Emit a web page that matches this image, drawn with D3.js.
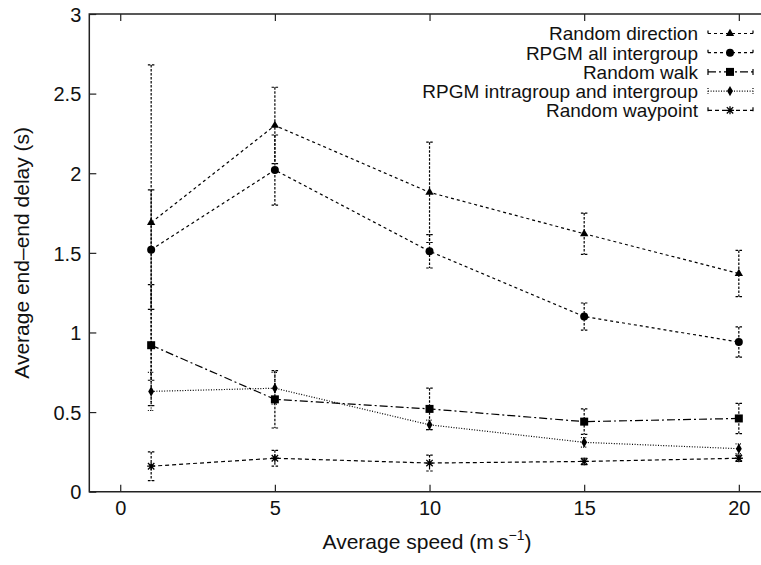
<!DOCTYPE html>
<html><head><meta charset="utf-8">
<script src="https://cdn.jsdelivr.net/npm/d3@7"></script>
<style>
html,body{margin:0;padding:0;background:#fff;}
svg{display:block;}
text{font-family:"Liberation Sans",Arial,Helvetica,sans-serif;fill:#111;}
</style></head>
<body><svg id="c" width="761" height="565"></svg>
<script>
// ---- data ----
const speeds = [1, 5, 10, 15, 20];
const xTicks = [0, 5, 10, 15, 20];
const yTicks = [0, 0.5, 1, 1.5, 2, 2.5, 3];
const yTickLabels = ["0", "0.5", "1", "1.5", "2", "2.5", "3"];
const seriesNames = ["Random direction", "RPGM all intergroup", "Random walk", "RPGM intragroup and intergroup", "Random waypoint"];
const randomDirection    = [1.69, 2.30, 1.88, 1.62, 1.37];
const randomDirectionErr = [0.99, 0.24, 0.315, 0.13, 0.145];
const rpgmAll            = [1.52, 2.02, 1.51, 1.10, 0.94];
const rpgmAllErr         = [0.375, 0.22, 0.105, 0.085, 0.095];
const randomWalk         = [0.92, 0.58, 0.52, 0.44, 0.46];
const randomWalkErr      = [0.38, 0.18, 0.13, 0.08, 0.095];
const rpgmIntra          = [0.63, 0.65, 0.42, 0.31, 0.27];
const rpgmIntraErr       = [0.12, 0.10, 0.03, 0.03, 0.03];
const randomWaypoint     = [0.16, 0.21, 0.18, 0.19, 0.21];
const randomWaypointErr  = [0.09, 0.05, 0.05, 0.02, 0.02];

const values = [randomDirection, rpgmAll, randomWalk, rpgmIntra, randomWaypoint];
const errors = [randomDirectionErr, rpgmAllErr, randomWalkErr, rpgmIntraErr, randomWaypointErr];

// ---- styles ----
const dashes = ["3,3", "3,3", "8,3,2,3", "1,1.6", "4,3"];
const asterisk = {draw(ctx, size){const r=Math.sqrt(size)/2; ctx.moveTo(-r,0);ctx.lineTo(r,0);ctx.moveTo(0,-r);ctx.lineTo(0,r);
  const d=r*0.8; ctx.moveTo(-d,-d);ctx.lineTo(d,d);ctx.moveTo(-d,d);ctx.lineTo(d,-d);}};
const symbols = [
  {type: d3.symbolTriangle, size: 30, fill: true},
  {type: d3.symbolCircle, size: 50, fill: true},
  {type: d3.symbolSquare, size: 64, fill: true},
  {type: d3.symbolDiamond, size: 30, fill: true},
  {type: asterisk, size: 64, fill: false}
];

const svg = d3.select("#c");
const plotLeft = 89.3, plotTop = 14, plotBottom = 491.7;
const x = d3.scaleLinear().domain([-1, 21]).range([plotLeft, plotLeft + 22 * 30.93]);
const y = d3.scaleLinear().domain([0, 3]).range([plotBottom, plotTop]);
const FS = 19, TFS = 20, AFS = 21;

// axes
const gx = svg.append("g").attr("transform", `translate(0,${plotBottom})`)
  .call(d3.axisBottom(x).tickValues(xTicks).tickSizeInner(-7).tickSizeOuter(0).tickPadding(9));
gx.select(".domain").remove();
gx.selectAll("line").attr("stroke", "#222").attr("stroke-width", 1.2);
gx.selectAll("text").attr("font-size", TFS).attr("font-family", null).attr("dy", "0.71em").attr("fill", "#111");

const gt = svg.append("g").attr("transform", `translate(0,${plotTop})`)
  .call(d3.axisTop(x).tickValues(xTicks).tickSizeInner(-7).tickSizeOuter(0).tickFormat(""));
gt.select(".domain").remove();
gt.selectAll("line").attr("stroke", "#222").attr("stroke-width", 1.2);

const gy = svg.append("g").attr("transform", `translate(${plotLeft},0)`)
  .call(d3.axisLeft(y).tickValues(yTicks).tickSizeInner(-7).tickSizeOuter(0).tickPadding(8)
    .tickFormat((d, i) => yTickLabels[i]));
gy.select(".domain").remove();
gy.selectAll("line").attr("stroke", "#222").attr("stroke-width", 1.2);
gy.selectAll("text").attr("font-size", TFS).attr("font-family", null).attr("dy", "0.36em").attr("fill", "#111");

// border (right side cropped)
svg.append("path")
  .attr("d", `M${x(21)},${plotTop}H${plotLeft}V${plotBottom}H${x(21)}`)
  .attr("fill", "none").attr("stroke", "#222").attr("stroke-width", 1.5);

// axis titles
const xt = svg.append("text").attr("x", 427).attr("y", 549)
  .attr("text-anchor", "middle").attr("font-size", AFS);
xt.append("tspan").text("Average speed (m\u2009s");
xt.append("tspan").attr("font-size", 14).attr("dy", -9).text("\u22121");
xt.append("tspan").attr("dy", 9).text(")");

svg.append("text").attr("transform", `translate(29,${(plotTop + plotBottom) / 2}) rotate(-90)`)
  .attr("text-anchor", "middle").attr("font-size", AFS).text("Average end\u2013end delay (s)");

// series
const line = d3.line().x(d => x(d[0])).y(d => y(d[1]));
const capW = 3.3;
values.forEach((vals, si) => {
  const g = svg.append("g");
  const pts = speeds.map((s, i) => [s, vals[i], errors[si][i]]);
  g.append("path").attr("d", line(pts)).attr("fill", "none").attr("stroke", "#000")
    .attr("stroke-width", 1.2).attr("stroke-dasharray", dashes[si]);
  pts.forEach(p => {
    const cx = x(p[0]), y1 = y(p[1] + p[2]), y0 = y(p[1] - p[2]);
    g.append("path").attr("d", `M${cx},${y1}V${y0}M${cx - capW},${y1}H${cx + capW}M${cx - capW},${y0}H${cx + capW}`)
      .attr("fill", "none").attr("stroke", "#000").attr("stroke-width", 1.2)
      .attr("stroke-dasharray", dashes[si] === "1,1.6" ? "1,1.2" : "2.5,1.5");
  });
  const sym = symbols[si];
  g.selectAll("path.m").data(pts).join("path").attr("class", "m")
    .attr("transform", d => `translate(${x(d[0])},${y(d[1])})`)
    .attr("d", d3.symbol().type(sym.type).size(sym.size))
    .attr("fill", sym.fill ? "#000" : "none").attr("stroke", "#000").attr("stroke-width", sym.fill ? 0 : 1.3);
});

// legend
const legY0 = 33.5, legDy = 19.2, textEnd = 698, s0 = 708, s1 = 753, sm = 730;
seriesNames.forEach((name, si) => {
  const ly = legY0 + si * legDy;
  svg.append("text").attr("x", textEnd).attr("y", ly).attr("dy", "0.36em")
    .attr("text-anchor", "end").attr("font-size", FS).text(name);
  svg.append("path").attr("d", `M${s0},${ly}H${s1}M${s0},${ly - 3}V${ly + 3}M${s1},${ly - 3}V${ly + 3}`)
    .attr("fill", "none").attr("stroke", "#000").attr("stroke-width", 1.2).attr("stroke-dasharray", dashes[si]);
  const sym = symbols[si];
  svg.append("path").attr("transform", `translate(${sm},${ly})`)
    .attr("d", d3.symbol().type(sym.type).size(sym.size))
    .attr("fill", sym.fill ? "#000" : "none").attr("stroke", "#000").attr("stroke-width", sym.fill ? 0 : 1.3);
});
</script></body></html>
